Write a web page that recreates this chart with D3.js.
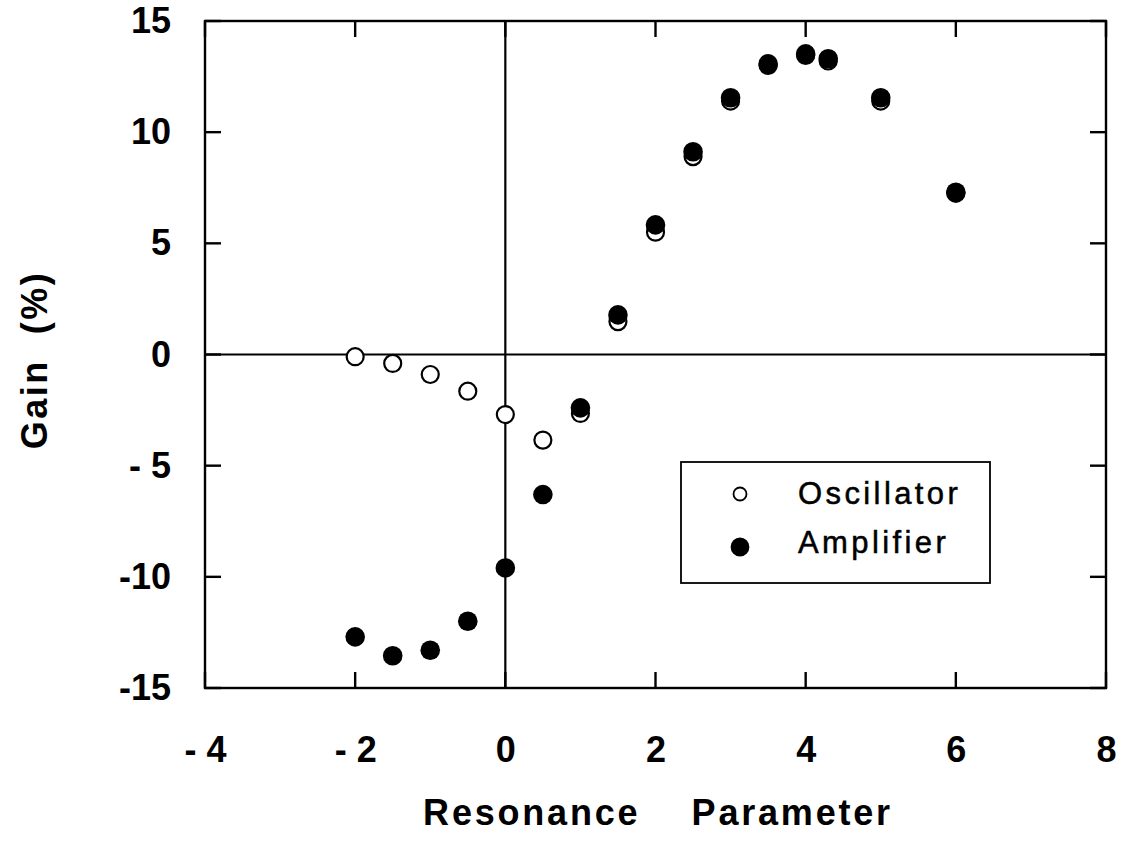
<!DOCTYPE html>
<html>
<head>
<meta charset="utf-8">
<script src="https://cdn.jsdelivr.net/npm/d3@7"></script>
<style>
  body { margin: 0; background: #fff; }
  text { font-family: "Liberation Sans", Arial, Helvetica, sans-serif; fill: #000; }
</style>
</head>
<body>
<script>
// Data
var resonance = [-2, -1.5, -1, -0.5, 0, 0.5, 1, 1.5, 2, 2.5, 3, 3.5, 4, 4.3, 5, 6];
var oscillator = [-0.1, -0.4, -0.9, -1.65, -2.7, -3.85, -2.65, 1.48, 5.5, 8.9, 11.4, 13.0, 13.45, 13.2, 11.4, 7.25];
var amplifier = [-12.7, -13.55, -13.3, -12.0, -9.6, -6.3, -2.4, 1.78, 5.83, 9.12, 11.55, 13.07, 13.52, 13.3, 11.55, 7.3];
var xTicks = [-4, -2, 0, 2, 4, 6, 8];
var yTicks = [-15, -10, -5, 0, 5, 10, 15];
var xTickLabels = ['- 4', '- 2', '0', '2', '4', '6', '8'];
var yTickLabels = ['-15', '-10', '- 5', '0', '5', '10', '15'];
var seriesNames = ['Oscillator', 'Amplifier'];

var W = 1124, H = 847;
var margin = { left: 205, right: 18, top: 21, bottom: 159 };
var w = W - margin.left - margin.right;
var h = H - margin.top - margin.bottom;
var tickLen = 16;

var svg = d3.select('body').append('svg').attr('width', W).attr('height', H);
var g = svg.append('g').attr('transform', 'translate(' + margin.left + ',' + margin.top + ')');

var x = d3.scaleLinear().domain([-4, 8]).range([0, w]);
var y = d3.scaleLinear().domain([-15, 15]).range([h, 0]);

// Tick labels from the axes
var xAxis = g.append('g')
  .attr('transform', 'translate(0,' + h + ')')
  .call(d3.axisBottom(x).tickValues(xTicks).tickSize(0).tickPadding(48)
    .tickFormat(function (d, i) { return xTickLabels[i]; }));
var yAxis = g.append('g')
  .call(d3.axisLeft(y).tickValues(yTicks).tickSize(0).tickPadding(34)
    .tickFormat(function (d, i) { return yTickLabels[i]; }));

[xAxis, yAxis].forEach(function (a) {
  a.select('.domain').remove();
  a.selectAll('line').remove();
  a.selectAll('text')
    .style('font-size', '36px')
    .style('font-weight', 'bold')
    .attr('fill', '#000');
});

// Inward ticks on all four sides
var ticks = g.append('g').attr('stroke', '#000').attr('stroke-width', 2.4);
ticks.selectAll('.xb').data(xTicks).enter().append('line')
  .attr('x1', function (d) { return x(d); }).attr('x2', function (d) { return x(d); })
  .attr('y1', h).attr('y2', h - tickLen);
ticks.selectAll('.xt').data(xTicks).enter().append('line')
  .attr('x1', function (d) { return x(d); }).attr('x2', function (d) { return x(d); })
  .attr('y1', 0).attr('y2', tickLen);
ticks.selectAll('.yl').data(yTicks).enter().append('line')
  .attr('y1', function (d) { return y(d); }).attr('y2', function (d) { return y(d); })
  .attr('x1', 0).attr('x2', tickLen);
ticks.selectAll('.yr').data(yTicks).enter().append('line')
  .attr('y1', function (d) { return y(d); }).attr('y2', function (d) { return y(d); })
  .attr('x1', w).attr('x2', w - tickLen);

// Frame
g.append('rect')
  .attr('width', w).attr('height', h)
  .attr('fill', 'none').attr('stroke', '#000').attr('stroke-width', 2.4);

// Zero lines
g.append('line')
  .attr('x1', 0).attr('x2', w).attr('y1', y(0)).attr('y2', y(0))
  .attr('stroke', '#000').attr('stroke-width', 2.2);
g.append('line')
  .attr('x1', x(0)).attr('x2', x(0)).attr('y1', 0).attr('y2', h)
  .attr('stroke', '#000').attr('stroke-width', 2.2);

// Oscillator (open circles)
g.append('g').selectAll('circle')
  .data(resonance)
  .enter()
  .append('circle')
  .attr('cx', function (d) { return x(d); })
  .attr('cy', function (d, i) { return y(oscillator[i]); })
  .attr('r', 8.5)
  .attr('fill', '#fff')
  .attr('stroke', '#000')
  .attr('stroke-width', 2.2);

// Amplifier (filled circles)
g.append('g').selectAll('circle')
  .data(resonance)
  .enter()
  .append('circle')
  .attr('cx', function (d) { return x(d); })
  .attr('cy', function (d, i) { return y(amplifier[i]); })
  .attr('r', 9.8)
  .attr('fill', '#000');

// Legend
var legend = svg.append('g').attr('transform', 'translate(681,462)');
legend.append('rect')
  .attr('width', 309).attr('height', 121)
  .attr('fill', '#fff').attr('stroke', '#000').attr('stroke-width', 1.8);
legend.selectAll('circle')
  .data(seriesNames)
  .enter()
  .append('circle')
  .attr('cx', 59)
  .attr('cy', function (d, i) { return 32 + i * 53; })
  .attr('r', function (d, i) { return i === 0 ? 6.5 : 8.5; })
  .attr('fill', function (d, i) { return i === 0 ? '#fff' : '#000'; })
  .attr('stroke', '#000')
  .attr('stroke-width', 1.8);
legend.selectAll('text')
  .data(seriesNames)
  .enter()
  .append('text')
  .attr('x', 117)
  .attr('y', function (d, i) { return 42 + i * 49; })
  .style('font-size', '31px')
  .style('letter-spacing', '3.4px')
  .attr('stroke', '#000')
  .attr('stroke-width', 0.5)
  .text(function (d) { return d; });

// Axis titles
svg.append('text')
  .attr('x', 658).attr('y', 825)
  .attr('text-anchor', 'middle')
  .style('font-size', '36px')
  .style('font-weight', 'bold')
  .style('letter-spacing', '2.8px')
  .style('white-space', 'pre')
  .text('Resonance    Parameter');

svg.append('text')
  .attr('transform', 'translate(47,360) rotate(-90)')
  .attr('text-anchor', 'middle')
  .style('font-size', '36px')
  .style('font-weight', 'bold')
  .style('letter-spacing', '2.5px')
  .style('white-space', 'pre')
  .text('Gain  (%)');
</script>
</body>
</html>
